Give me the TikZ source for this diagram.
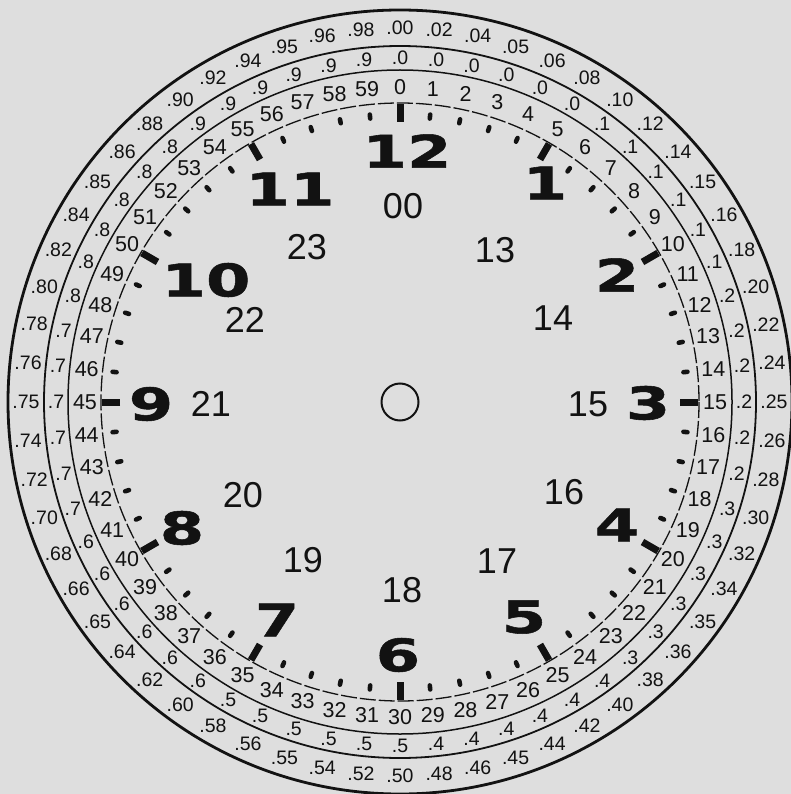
\documentclass[tikz,border=0pt]{standalone}
\usepackage{fontspec}
\setmainfont{Liberation Sans}
\newfontfamily\ringfont{Liberation Sans}
\newfontfamily\hourfont[FakeStretch=1.42,FakeBold=1.2]{DejaVu Sans}
\definecolor{bg}{RGB}{222,222,222}
\definecolor{ink}{RGB}{18,18,18}
\tikzset{
  ringline/.style={draw=ink},
  minlab/.style={font=\ringfont\fontsize{21.5}{21.5}\selectfont, inner sep=0pt, text=ink},
  declab/.style={font=\ringfont\fontsize{19.5}{19.5}\selectfont, inner sep=0pt, text=ink},
  hourlab/.style={font=\hourfont\bfseries\fontsize{45}{45}\selectfont, inner sep=0pt, text=ink},
  daylab/.style={font=\ringfont\fontsize{36}{36}\selectfont, inner sep=0pt, text=ink},
  mindot/.style={draw=ink, line width=4.6pt, line cap=round},
  hourbar/.style={draw=ink, line width=7pt},
}
\begin{document}
\begin{tikzpicture}[x=1pt,y=-1pt]
\useasboundingbox (0,0) rectangle (791,794);
\fill[bg] (0,0) rectangle (791,794);
\coordinate (c) at (400,402);
% rings
\draw[ringline, line width=2.8pt] (c) circle[radius=392];
\draw[ringline, line width=1.8pt] (c) circle[radius=356];
\draw[ringline, line width=1.5pt] (c) circle[radius=332];
\draw[ringline, line width=1.3pt, dash pattern=on 16pt off 3pt] (c) circle[radius=299];
% center circle
\draw[ringline, line width=2pt] (c) circle[radius=18.5];
% ticks
\foreach \m in {0,...,59}{
  \pgfmathtruncatemacro{\r}{mod(\m,5)}
  \ifnum\r=0
    \draw[hourbar] ({400+280*sin(6*\m)},{402-280*cos(6*\m)}) -- ({400+298*sin(6*\m)},{402-298*cos(6*\m)});
  \else
    \draw[mindot] ({400+285*sin(6*\m)},{402-285*cos(6*\m)}) -- ({400+289*sin(6*\m)},{402-289*cos(6*\m)});
  \fi
}
% minute ring
\foreach \m in {0,...,59}{
  \node[minlab] (min\m) at ({400+315*sin(6*\m)},{402-315*cos(6*\m)}) {\m};
}
% tenths ring
\foreach \m in {0,...,59}{
  \pgfmathtruncatemacro{\t}{\m/6}
  \node[declab] (dec\m) at ({400+344*sin(6*\m)},{402-344*cos(6*\m)}) {.\t};
}
% hundredths ring
\foreach \lab [count=\i from 0] in {00,02,04,05,06,08,10,12,14,15,16,18,20,22,24,25,26,28,30,32,34,35,36,38,40,42,44,45,46,48,50,52,54,55,56,58,60,62,64,65,66,68,70,72,74,75,76,78,80,82,84,85,86,88,90,92,94,95,96,98}{
  \node[declab] (hun\i) at ({400+374*sin(6*\i)},{402-374*cos(6*\i)}) {.\lab};
}
% hour numerals
\node[hourlab] (h12) at (407,151) {12};
\node[hourlab] (h1) at (545,183) {1};
\node[hourlab] (h2) at (617,275) {2};
\node[hourlab] (h3) at (648,403) {3};
\node[hourlab] (h4) at (617,525) {4};
\node[hourlab] (h5) at (524,617) {5};
\node[hourlab] (h6) at (398,655) {6};
\node[hourlab] (h7) at (277,620) {7};
\node[hourlab] (h8) at (182,528) {8};
\node[hourlab] (h9) at (151,404) {9};
\node[hourlab] (h10) at (206,280) {10};
\node[hourlab] (h11) at (290,189) {11};
% 24-hour numerals
\node[daylab] (d00) at (403,206) {00};
\node[daylab] (d13) at (495,250) {13};
\node[daylab] (d14) at (553,318) {14};
\node[daylab] (d15) at (588,404) {15};
\node[daylab] (d16) at (564,492) {16};
\node[daylab] (d17) at (497,561) {17};
\node[daylab] (d18) at (402,590) {18};
\node[daylab] (d19) at (303,560) {19};
\node[daylab] (d20) at (243,495) {20};
\node[daylab] (d21) at (211,404) {21};
\node[daylab] (d22) at (245,320) {22};
\node[daylab] (d23) at (307,247) {23};
\end{tikzpicture}
\end{document}
